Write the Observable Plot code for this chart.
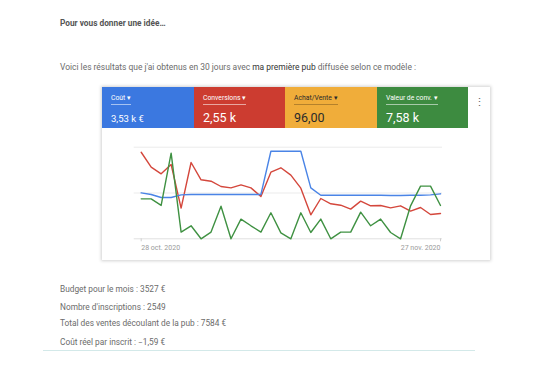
<!DOCTYPE html>
<html><head><meta charset="utf-8">
<script src="https://cdn.jsdelivr.net/npm/d3@7"></script>
<script src="https://cdn.jsdelivr.net/npm/@observablehq/plot@0.6"></script>
<style>
body{margin:0;width:553px;height:390px;background:#fff;font-family:Roboto,sans-serif;position:relative;overflow:hidden}
.t{position:absolute;left:60px;color:#6b6b6b;font-size:8.3px;white-space:nowrap;line-height:1}
.card{position:absolute;left:102px;top:87px;width:388px;height:173px;background:#fff;box-shadow:0 0 3px 1px rgba(0,0,0,0.18)}
.tile{position:absolute;top:0;height:41px}
.lab{position:absolute;left:9px;top:8px;font-size:6.8px;line-height:1;padding-bottom:2px;border-bottom:1px solid rgba(255,255,255,0.55);white-space:nowrap}
.val{position:absolute;left:9px;top:25px;line-height:1;white-space:nowrap}
#chart{position:absolute;left:0;top:42px}
.dots{position:absolute;left:372px;top:10px;font-size:11px;color:#666;line-height:1}
.rule{position:absolute;left:43px;top:350px;width:432px;height:1px;background:#d3e9e9}
</style></head><body>
<div class="t" style="top:19px;font-weight:bold;color:#555">Pour vous donner une idée…</div>
<div class="t" style="top:63px;font-size:8.45px">Voici les résultats que j'ai obtenus en 30 jours avec <span style="color:#333">ma première pub</span> diffusée selon ce modèle :</div>
<div class="card" id="card"><div class="dots">⋮</div><div id="chart"></div></div>
<div class="t" style="top:285px">Budget pour le mois : 3527 €</div>
<div class="t" style="top:302.5px">Nombre d'inscriptions : 2549</div>
<div class="t" style="top:319px">Total des ventes découlant de la pub : 7584 €</div>
<div class="t" style="top:337.5px">Coût réel par inscrit : −1,59 €</div>
<div class="rule"></div>
<script>
const metricNames = ["Coût", "Conversions", "Achat/Vente", "Valeur de conv."];
const metricValues = ["3,53 k €", "2,55 k", "96,00", "7,58 k"];
const tileColors = ["#3b78e0", "#cc3c30", "#f0ad3a", "#3d8b40"];
const lineColors = ["#4a84e6", "#d4473c", "#3f9142"];
const seriesKeys = ["Coût", "Conversions", "Valeur de conv."];
const startDate = new Date(2020, 9, 28);
const endDate = new Date(2020, 10, 27);
const dateLabels = ["28 oct. 2020", "27 nov. 2020"];

const cout = [50.2, 48.4, 45.1, 45.1, 48.0, 48.4, 48.4, 48.4, 48.4, 48.4, 48.4, 48.4, 48.4, 95.6, 95.6, 95.6, 95.6, 55.6, 47.6, 47.6, 47.6, 47.6, 47.6, 47.6, 47.6, 47.3, 47.3, 47.6, 47.6, 48.0, 49.1];
const conversions = [94.5, 78.2, 70.9, 81.1, 33.5, 83.3, 64.4, 62.9, 57.1, 55.6, 58.9, 55.6, 46.2, 72.7, 77.5, 69.5, 55.3, 26.2, 44.0, 38.2, 36.7, 32.4, 41.1, 36.0, 36.4, 33.8, 36.0, 30.2, 34.2, 26.5, 27.6];
const valeurConv = [43.6, 43.6, 36.4, 93.5, 7.3, 14.2, 0, 7.3, 35.6, 0, 21.5, 14.2, 7.3, 28.4, 6.5, 0, 28.4, 6.9, 21.5, 0, 7.3, 7.3, 29.1, 14.2, 21.5, 6.9, 0, 36.0, 57.5, 57.5, 36.4];

const card = document.getElementById("card");
const widths = [92, 91, 92, 91];
let left = 0;
metricNames.forEach((name, i) => {
  const tile = document.createElement("div");
  tile.className = "tile";
  tile.style.left = left + "px";
  tile.style.width = widths[i] + "px";
  tile.style.background = tileColors[i];
  const dark = i === 2;
  const fg = dark ? "#2a2a2a" : "#fff";
  const lab = document.createElement("div");
  lab.className = "lab";
  lab.style.color = fg;
  lab.style.borderBottomColor = dark ? "rgba(0,0,0,0.25)" : "rgba(255,255,255,0.55)";
  lab.textContent = name + " ▾";
  const val = document.createElement("div");
  val.className = "val";
  val.style.color = fg;
  val.style.fontSize = i === 0 ? "9.5px" : "12.5px";
  if (i === 0) val.style.top = "27px";
  val.textContent = metricValues[i];
  tile.appendChild(lab);
  tile.appendChild(val);
  card.appendChild(tile);
  left += widths[i];
});

const dates = d3.timeDay.range(startDate, d3.timeDay.offset(endDate, 1));
const allSeries = [conversions, cout, valeurConv];
const order = [1, 0, 2];
const data = [];
allSeries.forEach((vals, s) => vals.forEach((v, i) => data.push({date: dates[i], v, key: seriesKeys[order[s]]})));

const chart = Plot.plot({
  width: 388, height: 131,
  marginLeft: 38.7, marginRight: 50, marginTop: 17.7, marginBottom: 21.7,
  style: {fontFamily: "Roboto, sans-serif", background: "transparent"},
  x: {type: "time", domain: [startDate, endDate], axis: null},
  y: {type: "linear", domain: [0, 100], axis: null},
  color: {domain: seriesKeys, range: lineColors},
  marks: [
    Plot.ruleY([50, 100], {stroke: "#ebebeb", strokeWidth: 1, insetLeft: -7, insetRight: -2}),
    Plot.ruleY([0], {stroke: "#e0e0e0", strokeWidth: 1, insetLeft: -7, insetRight: -2}),
    Plot.ruleX([startDate, endDate], {y1: 0, y2: 0, stroke: "#cfcfcf", insetBottom: -3}),
    Plot.lineY(data, {x: "date", y: "v", z: "key", stroke: "key", strokeWidth: 1.4}),
    Plot.text([startDate], {x: d => d, y: 0, text: () => dateLabels[0], textAnchor: "start", dy: 8.5, fontSize: 7, fill: "#9a9a9a"}),
    Plot.text([endDate], {x: d => d, y: 0, text: () => dateLabels[1], textAnchor: "end", dy: 8.5, fontSize: 7, fill: "#9a9a9a"})
  ]
});
document.getElementById("chart").appendChild(chart);
</script>
</body></html>
